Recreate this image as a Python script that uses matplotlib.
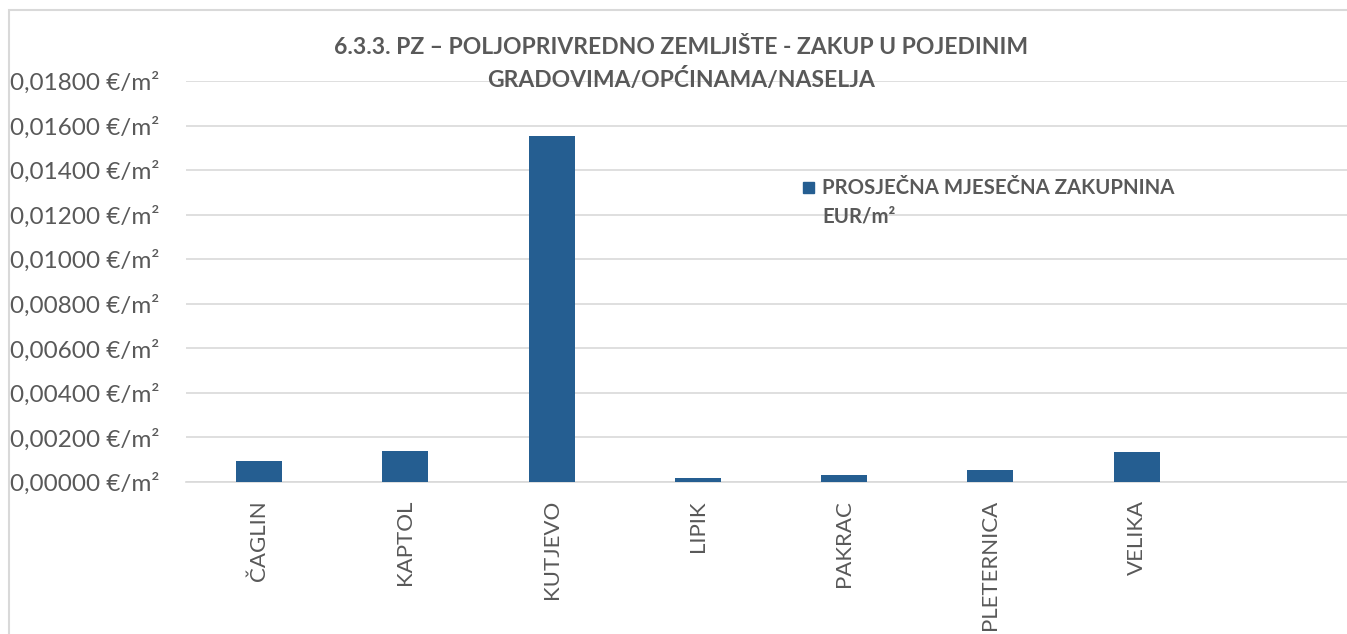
import matplotlib
matplotlib.use("Agg")
import matplotlib.pyplot as plt
from matplotlib.patches import Rectangle
from matplotlib.ticker import FuncFormatter, MultipleLocator

plt.rcParams["font.family"] = ["Lato", "DejaVu Sans"]

# data
places = ["ČAGLIN", "KAPTOL", "KUTJEVO", "LIPIK", "PAKRAC", "PLETERNICA", "VELIKA"]
rent_eur_m2 = [0.00093, 0.00139, 0.01554, 0.00018, 0.00031, 0.00054, 0.00136]
series_label = "PROSJEČNA MJESEČNA ZAKUPNINA\nEUR/m²"
title = "6.3.3. PZ – POLJOPRIVREDNO ZEMLJIŠTE - ZAKUP U POJEDINIM\nGRADOVIMA/OPĆINAMA/NASELJA"

W, H = 1347, 634
BAR = "#255E91"
TXT = "#595959"
GRID = "#D9D9D9"

fig = plt.figure(figsize=(W / 100, H / 100), dpi=100)
fig.patch.set_facecolor("white")

# chart area border (cropped on right and bottom in the reference)
fig.add_artist(Rectangle((9 / W, -0.05), 1.1, 1 - 10 / H + 0.05,
                         transform=fig.transFigure, fill=False,
                         edgecolor=GRID, linewidth=1.5))

ax = fig.add_axes([186 / W, (H - 482) / H, 1170 / W, (482 - 81) / H])
x = range(len(places))
ax.bar(x, rent_eur_m2, width=0.315, color=BAR, zorder=3)

ax.set_xlim(-0.5, 7.5)
ax.set_ylim(0, 0.018)
ax.yaxis.set_major_locator(MultipleLocator(0.002))
ax.yaxis.set_major_formatter(
    FuncFormatter(lambda v, _: f"{v:.5f}".replace(".", ",") + " €/m²"))
ax.grid(axis="y", color=GRID, linewidth=1.2, zorder=0)
ax.set_axisbelow(True)

for s in ["top", "right", "left"]:
    ax.spines[s].set_visible(False)
ax.spines["bottom"].set_color(GRID)
ax.spines["bottom"].set_linewidth(1.2)

ax.set_xticks(list(x))
ax.set_xticklabels(places, rotation=90, fontsize=16, color=TXT)
ax.tick_params(axis="x", length=0, pad=13)
# left-aligned y labels starting near the chart border
ax.tick_params(axis="y", length=0, pad=176 * 0.72, labelsize=17.5, labelcolor=TXT)
for lbl in ax.get_yticklabels():
    lbl.set_horizontalalignment("left")

fig.text(681 / W, 1 - 64 / H, title, ha="center", va="center",
         fontsize=16.5, fontweight="bold", color=TXT, linespacing=1.5)

# legend: square key aligned with first line of the wrapped label
fig.add_artist(Rectangle((803 / W, 1 - 193 / H), 11 / W, 11 / H,
                         transform=fig.transFigure, color=BAR))
fig.text(822 / W, 1 - 202 / H, series_label, ha="left", va="center",
         fontsize=14.7, fontweight="bold", color=TXT, linespacing=1.55)

fig.savefig("out.png", dpi=100)
